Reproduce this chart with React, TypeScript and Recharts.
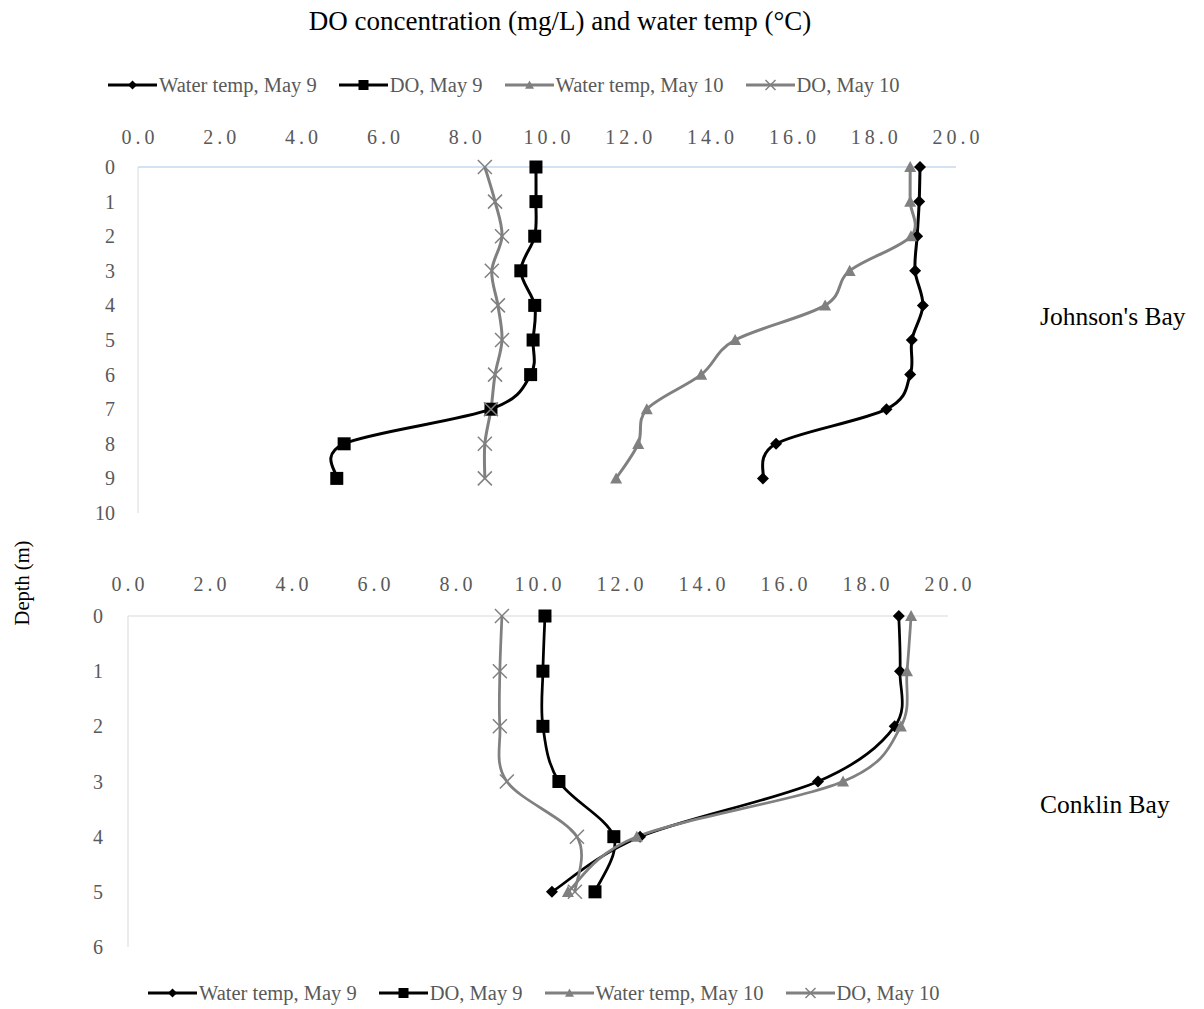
import React from "react";
import { LineChart, Line, XAxis, YAxis } from "recharts";

// Johnson's Bay profiles (depth in m)
const johnsonDepths = [0, 1, 2, 3, 4, 5, 6, 7, 8, 9];
const johnsonTempMay9 = [19.12, 19.1, 19.05, 19.0, 19.19, 18.92, 18.88, 18.3, 15.6, 15.28];
const johnsonDoMay9 = [9.73, 9.73, 9.7, 9.36, 9.7, 9.66, 9.6, 8.63, 5.04, 4.86];
const johnsonTempMay10 = [18.88, 18.88, 18.9, 17.4, 16.8, 14.6, 13.77, 12.44, 12.23, 11.69];
const johnsonDoMay10 = [8.48, 8.73, 8.9, 8.65, 8.8, 8.9, 8.73, 8.63, 8.48, 8.48];

// Conklin Bay profiles
const conklinDepths = [0, 1, 2, 3, 4, 5];
const conklinTempMay9 = [18.8, 18.83, 18.7, 16.83, 12.49, 10.34];
const conklinDoMay9 = [10.17, 10.12, 10.12, 10.51, 11.85, 11.39];
const conklinTempMay10 = [19.1, 19.0, 18.85, 17.44, 12.41, 10.73];
const conklinDoMay10 = [9.12, 9.07, 9.07, 9.24, 10.95, 10.9];

const valueTicks = [0, 2, 4, 6, 8, 10, 12, 14, 16, 18, 20];
const johnsonDepthTicks = [0, 1, 2, 3, 4, 5, 6, 7, 8, 9, 10];
const conklinDepthTicks = [0, 1, 2, 3, 4, 5, 6];

const seriesNames = ["Water temp, May 9", "DO, May 9", "Water temp, May 10", "DO, May 10"];

const BLACK = "#000000";
const GRAY = "#808080";
const TEXT = "#595959";
const FONT = "'Liberation Serif', 'Times New Roman', serif";

const buildRows = (depths: number[], t9: number[], d9: number[], t10: number[], d10: number[]) =>
  depths.map((depth, i) => ({ depth, temp9: t9[i], do9: d9[i], temp10: t10[i], do10: d10[i] }));

const johnsonData = buildRows(johnsonDepths, johnsonTempMay9, johnsonDoMay9, johnsonTempMay10, johnsonDoMay10);
const conklinData = buildRows(conklinDepths, conklinTempMay9, conklinDoMay9, conklinTempMay10, conklinDoMay10);

// excel-like smoothed line (catmull-rom style bezier)
const smoothCurve = (context: any) => {
  let pts: number[][] = [];
  return {
    areaStart() {},
    areaEnd() {},
    lineStart() {
      pts = [];
    },
    point(x: number, y: number) {
      pts.push([+x, +y]);
    },
    lineEnd() {
      if (!pts.length) return;
      context.moveTo(pts[0][0], pts[0][1]);
      const k = 1 / 6;
      for (let i = 0; i < pts.length - 1; i++) {
        const p0 = pts[i - 1] || pts[i];
        const p1 = pts[i];
        const p2 = pts[i + 1];
        const p3 = pts[i + 2] || p2;
        context.bezierCurveTo(
          p1[0] + (p2[0] - p0[0]) * k,
          p1[1] + (p2[1] - p0[1]) * k,
          p2[0] - (p3[0] - p1[0]) * k,
          p2[1] - (p3[1] - p1[1]) * k,
          p2[0],
          p2[1]
        );
      }
    },
  };
};

const Marker = ({ kind, cx, cy, small }: { kind: string; cx: number; cy: number; small?: boolean }) => {
  if (kind === "diamond") {
    const s = small ? 4.5 : 6;
    return <polygon points={`${cx},${cy - s} ${cx + s},${cy} ${cx},${cy + s} ${cx - s},${cy}`} fill={BLACK} />;
  }
  if (kind === "square") {
    const s = small ? 5 : 6.5;
    return <rect x={cx - s} y={cy - s} width={s * 2} height={s * 2} fill={BLACK} />;
  }
  if (kind === "triangle") {
    const s = small ? 4.5 : 6;
    return <polygon points={`${cx},${cy - s} ${cx + s},${cy + s * 0.85} ${cx - s},${cy + s * 0.85}`} fill={GRAY} />;
  }
  const s = small ? 5 : 7;
  return (
    <g stroke={GRAY} strokeWidth={1.5}>
      <line x1={cx - s} y1={cy - s} x2={cx + s} y2={cy + s} />
      <line x1={cx - s} y1={cy + s} x2={cx + s} y2={cy - s} />
    </g>
  );
};

const dotOf = (kind: string) => (props: any) =>
  <Marker key={`${kind}-${props.index}`} kind={kind} cx={props.cx} cy={props.cy} />;

const seriesDefs = [
  { key: "temp9", color: BLACK, kind: "diamond" },
  { key: "do9", color: BLACK, kind: "square" },
  { key: "temp10", color: GRAY, kind: "triangle" },
  { key: "do10", color: GRAY, kind: "x" },
];

const ValueTick = ({ x, y, payload }: any) => (
  <text x={x + 2} y={y} textAnchor="middle" fill={TEXT} style={{ fontFamily: FONT, fontSize: 20, letterSpacing: 4 }}>
    {Number(payload.value).toFixed(1)}
  </text>
);

const DepthTick = ({ x, y, payload }: any) => (
  <text x={x} y={y} dy="0.35em" textAnchor="end" fill={TEXT} style={{ fontFamily: FONT, fontSize: 20 }}>
    {payload.value}
  </text>
);

const LegendRow = ({ left, top }: { left: number; top: number }) => (
  <div style={{ position: "absolute", left, top, display: "flex", alignItems: "center", height: 26 }}>
    {seriesDefs.map((s, i) => (
      <div key={s.key} style={{ display: "flex", alignItems: "center", marginRight: 22 }}>
        <svg width={49} height={16}>
          <line x1={0} y1={8} x2={49} y2={8} stroke={s.color} strokeWidth={3} />
          <Marker kind={s.kind} cx={24.5} cy={8} small />
        </svg>
        <span style={{ fontSize: 20.5, color: TEXT, marginLeft: 2, fontFamily: FONT }}>{seriesNames[i]}</span>
      </div>
    ))}
  </div>
);

const Profile = ({
  data,
  depthTicks,
  height,
  margin,
  topLineColor,
  sideLineColor,
  xTickMargin,
  yTickMargin,
  lineWidth,
}: any) => (
  <LineChart layout="vertical" width={1204} height={height} data={data} margin={margin}>
    <XAxis
      type="number"
      orientation="top"
      domain={[0, 20]}
      ticks={valueTicks}
      interval={0}
      height={40}
      tickLine={false}
      tickMargin={xTickMargin}
      axisLine={{ stroke: topLineColor, strokeWidth: 1 }}
      tick={<ValueTick />}
    />
    <YAxis
      type="number"
      dataKey="depth"
      domain={[0, depthTicks[depthTicks.length - 1]]}
      ticks={depthTicks}
      interval={0}
      width={40}
      tickLine={false}
      tickMargin={yTickMargin}
      axisLine={{ stroke: sideLineColor, strokeWidth: 1 }}
      tick={<DepthTick />}
    />
    {seriesDefs.map((s) => (
      <Line
        key={s.key}
        dataKey={s.key}
        type={smoothCurve as any}
        stroke={s.color}
        strokeWidth={lineWidth}
        dot={dotOf(s.kind)}
        activeDot={false}
        isAnimationActive={false}
      />
    ))}
  </LineChart>
);

export default function App() {
  return (
    <div style={{ position: "relative", width: 1204, height: 1009, background: "#fff", fontFamily: FONT, overflow: "hidden" }}>
      <style>{"body{margin:0}"}</style>
      <div style={{ position: "absolute", top: 6, left: 0, width: 1120, textAlign: "center", fontSize: 27, color: "#000" }}>
        DO concentration (mg/L) and water temp (°C)
      </div>
      <LegendRow left={108} top={72} />

      <div style={{ position: "absolute", left: 0, top: 0 }}>
        <Profile
          data={johnsonData}
          depthTicks={johnsonDepthTicks}
          height={525}
          margin={{ top: 127, right: 248, bottom: 12, left: 98 }}
          topLineColor="#a9c6e8"
          sideLineColor="#d9d9d9"
          xTickMargin={17}
          yTickMargin={17}
          lineWidth={3}
        />
      </div>
      <div style={{ position: "absolute", left: 0, top: 540 }}>
        <Profile
          data={conklinData}
          depthTicks={conklinDepthTicks}
          height={420}
          margin={{ top: 36, right: 256, bottom: 13, left: 88 }}
          topLineColor="#d9d9d9"
          sideLineColor="#d9d9d9"
          xTickMargin={19}
          yTickMargin={19}
          lineWidth={2.75}
        />
      </div>

      <div
        style={{
          position: "absolute",
          left: 22,
          top: 583,
          transform: "translate(-50%, -50%) rotate(-90deg)",
          fontSize: 20.5,
          color: "#000",
          whiteSpace: "nowrap",
        }}
      >
        Depth (m)
      </div>
      <div style={{ position: "absolute", left: 1040, top: 302, fontSize: 25.5, color: "#000", whiteSpace: "nowrap" }}>
        Johnson's Bay
      </div>
      <div style={{ position: "absolute", left: 1040, top: 790, fontSize: 25.5, color: "#000", whiteSpace: "nowrap" }}>
        Conklin Bay
      </div>

      <LegendRow left={148} top={980} />
    </div>
  );
}
